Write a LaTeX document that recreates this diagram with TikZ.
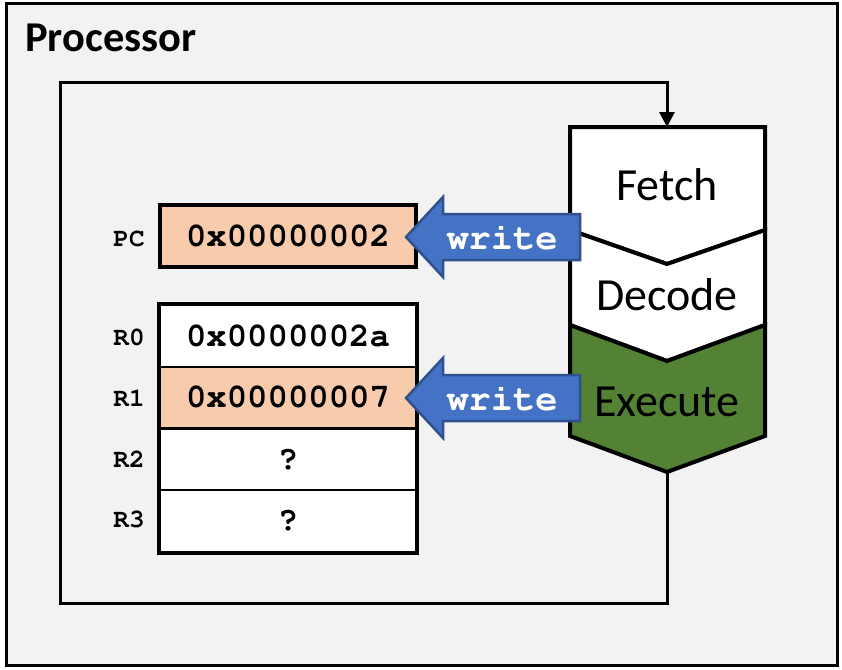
\documentclass[tikz,border=0pt]{standalone}
\usepackage[T1]{fontenc}
\usepackage{fontspec}
\setmainfont{Carlito}
\newcommand\courbold{\fontencoding{T1}\fontfamily{pcr}\fontseries{b}\fontshape{n}\selectfont}
\usetikzlibrary{arrows.meta}
\definecolor{bgc}{HTML}{F2F2F2}
\definecolor{peach}{HTML}{F8CBAD}
\definecolor{stagegreen}{HTML}{548235}
\definecolor{blueA}{HTML}{4472C4}
\definecolor{blueB}{HTML}{2F528F}
\tikzset{
  frame/.style={line width=3pt, fill=bgc},
  loopline/.style={line width=3pt},
  stagebox/.style={line width=4pt, line join=miter, fill=white},
  stagetxt/.style={anchor=base, inner sep=0pt, font=\fontsize{46pt}{55pt}\selectfont},
  regrow/.style={draw, fill=white, line width=2pt, minimum width=256pt, minimum height=61.75pt, inner sep=0pt,
     font=\courbold\fontsize{34pt}{40pt}\selectfont},
  regouter/.style={draw, line width=4pt},
  reglab/.style={inner sep=0pt, font=\courbold\fontsize{26pt}{30pt}\selectfont},
  writearrow/.style={fill=blueA, draw=blueB, line width=2.5pt, line join=miter},
  writetxt/.style={inner sep=0pt, text=white, font=\courbold\fontsize{37pt}{44pt}\selectfont},
}
\begin{document}
\begin{tikzpicture}[x=1pt,y=-1pt]
\useasboundingbox (0,0) rectangle (842,669);
% outer frame
\draw[frame] (6,4) rectangle (837,665);
\node[anchor=base west, inner sep=0pt, font=\fontsize{42.5pt}{50pt}\selectfont\bfseries] (title) at (25,52) {Processor};

% pipeline anchors
\coordinate (ftop) at (667,127);
\coordinate (ebot) at (667,472);
% loop
\draw[loopline, -{Triangle[length=15pt, width=15pt]}] (ebot) |- (60,603) -- (60,82) -| (ftop);

% pipeline stages
\draw[stagebox] (570,127) -- (765,127) -- (765,230) -- (667,264) -- (570,230) -- cycle;
\draw[stagebox] (570,230) -- (667,264) -- (765,230) -- (765,325) -- (667,361) -- (570,325) -- cycle;
\draw[stagebox, fill=stagegreen] (570,325) -- (667,361) -- (765,325) -- (765,436) -- (667,472) -- (570,436) -- cycle;
\node[stagetxt] (fetch) at (667,200) {Fetch};
\node[stagetxt] (decode) at (667,310) {Decode};
\node[stagetxt] (execute) at (667,416) {Execute};

% PC
\node[regrow, line width=4pt, fill=peach, minimum height=62pt] (pc) at (288,236) {0x00000002};
\node[reglab] (pclab) at (129,239) {PC};

% register file
\node[regrow] (r0) at (288,335.9) {0x0000002a};
\node[regrow, fill=peach] (r1) at (288,397.6) {0x00000007};
\node[regrow] (r2) at (288,459.4) {?};
\node[regrow] (r3) at (288,521.1) {?};
\draw[regouter] (r0.north west) rectangle (r3.south east);
\node[reglab] (r0lab) at (129,338) {R0};
\node[reglab] (r1lab) at (129,398) {R1};
\node[reglab] (r2lab) at (129,459) {R2};
\node[reglab] (r3lab) at (129,520) {R3};

% write arrows
\draw[writearrow] (406,237) -- (443,197) -- (443,214) -- (580,214) -- (580,260) -- (443,260) -- (443,277) -- cycle;
\node[writetxt] (w1) at (502,238) {write};
\draw[writearrow] (406,398) -- (443,358) -- (443,375) -- (580,375) -- (580,421) -- (443,421) -- (443,438) -- cycle;
\node[writetxt] (w2) at (502,399) {write};
\end{tikzpicture}
\end{document}
